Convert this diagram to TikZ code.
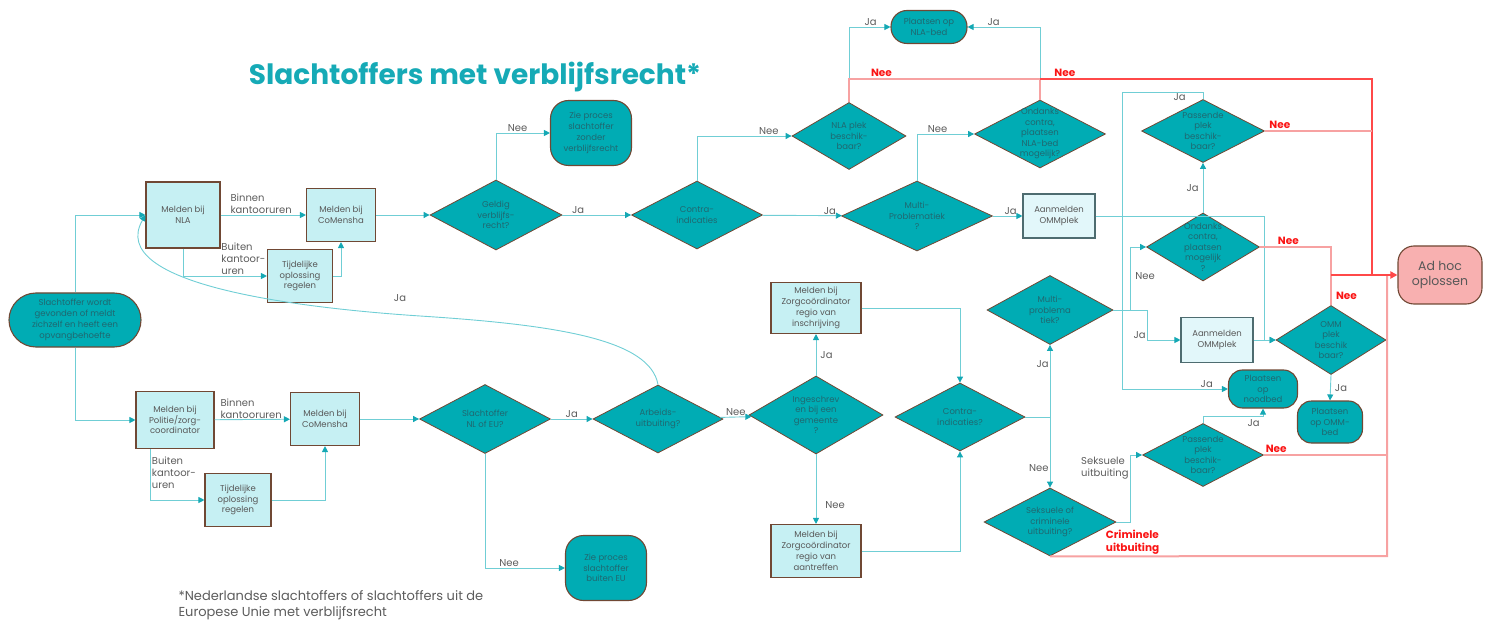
\documentclass[tikz,border=0pt]{standalone}
\usepackage{fontspec}
\setmainfont{Poppins}
\usetikzlibrary{shapes.geometric,arrows.meta,positioning}

\definecolor{tealfill}{RGB}{0,172,180}
\definecolor{brownb}{RGB}{112,72,52}
\definecolor{boxfill}{RGB}{198,240,243}
\definecolor{ommfill}{RGB}{226,247,250}
\definecolor{ommborder}{RGB}{78,108,112}
\definecolor{linec}{RGB}{112,206,213}
\definecolor{arrc}{RGB}{20,168,180}
\definecolor{diatxt}{RGB}{32,104,112}
\definecolor{boxtxt}{RGB}{88,88,88}
\definecolor{labgray}{RGB}{92,92,92}
\definecolor{titlec}{RGB}{22,170,182}
\definecolor{redlight}{RGB}{247,162,162}
\definecolor{redbright}{RGB}{255,72,72}
\definecolor{redlab}{RGB}{250,20,20}
\definecolor{adhocfill}{RGB}{248,176,176}

\tikzset{
	conn/.style={draw=linec, line width=0.9pt, -{Triangle[length=6pt,width=6pt,color=arrc]}},
	plain/.style={draw=linec, line width=0.9pt},
	redl/.style={draw=redlight, line width=2pt},
	redt/.style={draw=redbright, line width=2pt},
	box/.style={rectangle, draw=brownb, line width=1.1pt, fill=boxfill, text=boxtxt, align=center, inner sep=1pt, font=\fontsize{8.5}{10.8}\selectfont},
	ommbox/.style={box, draw=ommborder, fill=ommfill},
	dia/.style={diamond, draw=brownb, line width=0.8pt, fill=tealfill, inner sep=0pt},
	dtxt/.style={text=diatxt, align=center, inner sep=0pt, font=\fontsize{8.5}{10.5}\selectfont},
	term/.style={rectangle, rounded corners=#1, draw=brownb, line width=1.1pt, fill=tealfill, text=diatxt, align=center, inner sep=1pt, font=\fontsize{8.5}{10.8}\selectfont},
	term/.default=14pt,
	lbl/.style={text=labgray, inner sep=1pt, font=\fontsize{10}{12}\selectfont},
	rlbl/.style={text=redlab, inner sep=1pt, font=\bfseries\fontsize{10.5}{12.5}\selectfont},
}

\begin{document}
\begin{tikzpicture}[x=1pt, y=-1pt]
	\useasboundingbox (0,0) rectangle (1491,620);

	\node[text=titlec, font=\bfseries\fontsize{28}{32}\selectfont] (titel) at (475,77) {Slachtoffers met verblijfsrecht*};

	\node[term=27pt, minimum width=132pt, minimum height=54pt] (start) at (75,320) {Slachtoffer wordt\\gevonden of meldt\\zichzelf en heeft een\\opvangbehoefte};

	\node[box, minimum width=74pt, minimum height=66pt] (nla) at (183,215) {Melden bij\\NLA};
	\node[box, minimum width=69pt, minimum height=53pt] (comA) at (341,215) {Melden bij\\CoMensha};
	\node[box, minimum width=65pt, minimum height=53pt] (tijdA) at (300,276) {Tijdelijke\\oplossing\\regelen};
	\node[dia, minimum width=132pt, minimum height=70pt, label={[dtxt]center:{Geldig\\verblijfs-\\recht?}}] (geldig) at (496,215) {};
	\node[term=18pt, minimum width=81pt, minimum height=65pt] (zonder) at (591,133) {Zie proces\\slachtoffer\\zonder\\verblijfsrecht};
	\node[dia, minimum width=131pt, minimum height=68pt, label={[dtxt]center:{Contra-\\indicaties}}] (contra) at (697,215) {};
	\node[dia, minimum width=114pt, minimum height=67pt, label={[dtxt]center:{NLA plek\\beschik-\\baar?}}] (nlaplek) at (849,136) {};
	\node[term=16pt, minimum width=76pt, minimum height=33pt] (nlabed) at (929,27) {Plaatsen op\\NLA-bed};
	\node[dia, minimum width=131pt, minimum height=68pt, label={[dtxt]center:{Ondanks\\contra,\\plaatsen\\NLA-bed\\mogelijk?}}] (ondnla) at (1040,134) {};
	\node[dia, minimum width=151pt, minimum height=70pt, label={[dtxt]center:{Multi-\\Problematiek\\?}}] (multi) at (917,216) {};
	\node[ommbox, minimum width=72pt, minimum height=44pt] (ommA) at (1059,216) {Aanmelden\\OMMplek};
	\node[dia, minimum width=123pt, minimum height=63pt, label={[dtxt]center:{Passende\\plek\\beschik-\\baar?}}] (pasA) at (1203,131) {};
	\node[dia, minimum width=113pt, minimum height=68pt, label={[dtxt]center:{Ondanks\\contra,\\plaatsen\\mogelijk\\?}}] (ondomm) at (1203,247) {};
	\node[term=16pt, fill=adhocfill, text=boxtxt, font=\fontsize{12.5}{15.5}\selectfont, minimum width=84pt, minimum height=58pt] (adhoc) at (1440,275) {Ad hoc\\oplossen};

	\node[box, minimum width=78pt, minimum height=57pt] (politie) at (175,420) {Melden bij\\Politie/zorg-\\coordinator};
	\node[box, minimum width=69pt, minimum height=53pt] (comB) at (325,419) {Melden bij\\CoMensha};
	\node[box, minimum width=66pt, minimum height=53pt] (tijdB) at (238,500) {Tijdelijke\\oplossing\\regelen};
	\node[dia, minimum width=131pt, minimum height=69pt, label={[dtxt]center:{Slachtoffer\\NL of EU?}}] (nleu) at (485,419) {};
	\node[term=18pt, minimum width=81pt, minimum height=65pt] (buiten) at (606,568) {Zie proces\\slachtoffer\\buiten EU};
	\node[dia, minimum width=130pt, minimum height=68pt, label={[dtxt]center:{Arbeids-\\uitbuiting?}}] (arbeid) at (658,419) {};
	\node[dia, minimum width=134pt, minimum height=78pt, label={[dtxt]center:{Ingeschrev\\en bij een\\gemeente\\?}}] (ingeschr) at (816,415) {};
	\node[box, minimum width=90pt, minimum height=51pt] (zorgin) at (816,308) {Melden bij\\Zorgcoördinator\\regio van\\inschrijving};
	\node[box, minimum width=90pt, minimum height=53pt] (zorgaan) at (816,551) {Melden bij\\Zorgcoördinator\\regio van\\aantreffen};
	\node[dia, minimum width=130pt, minimum height=68pt, label={[dtxt]center:{Contra-\\indicaties?}}] (contrab) at (960,417) {};
	\node[dia, minimum width=126pt, minimum height=69pt, label={[dtxt]center:{Multi-\\problema\\tiek?}}] (multib) at (1050,310) {};
	\node[ommbox, minimum width=72pt, minimum height=45pt] (ommB) at (1217,340) {Aanmelden\\OMMplek};
	\node[dia, minimum width=110pt, minimum height=69pt, label={[dtxt]center:{OMM\\plek\\beschik\\baar?}}] (ommplek) at (1331,340) {};
	\node[term, minimum width=65pt, minimum height=42pt] (ommbed) at (1330,422) {Plaatsen\\op OMM-\\bed};
	\node[term, minimum width=69pt, minimum height=38pt] (noodbed) at (1263,389) {Plaatsen\\op\\noodbed};
	\node[dia, minimum width=121pt, minimum height=63pt, label={[dtxt]center:{Passende\\plek\\beschik-\\baar?}}] (pasB) at (1203,455) {};
	\node[dia, minimum width=132pt, minimum height=68pt, label={[dtxt]center:{Seksuele of\\criminele\\uitbuiting?}}] (seks) at (1050,522) {};

	\node[anchor=north west, align=left, text=labgray, font=\fontsize{13}{16}\selectfont] (voetnoot) at (175,587) {*Nederlandse slachtoffers of slachtoffers uit de\\Europese Unie met verblijfsrecht};

	\coordinate (j1) at (1264,340);
	\coordinate (j2) at (1122,92);
	\coordinate (j3) at (1263,416);
	\coordinate (m1) at (1130,310);
	\coordinate (m2) at (1147,310);
	\coordinate (m3) at (1130,522);
	\coordinate (r1) at (849,79);
	\coordinate (r2) at (1372,79);
	\coordinate (r3) at (1372,275);
	\coordinate (r4) at (1331,275);
	\coordinate (r5) at (1387,455);
	\coordinate (r6) at (1387,556);
	\coordinate (r7) at (1387,275);

	\draw[conn] (start.north) |- (nla.west);
	\draw[conn] (start.south) |- (politie.west);
	\draw[conn] (nla) -- (comA) node[lbl, pos=0.1, anchor=south west, align=left] {Binnen\\kantooruren};
	\draw[conn] (nla.south) |- (tijdA.west) node[lbl, pos=0.72, anchor=south west, align=left] {Buiten\\kantoor-\\uren};
	\draw[conn] (tijdA.east) -| (comA.south);
	\draw[conn] (comA) -- (geldig);
	\draw[conn] (geldig.north) |- (zonder.west) node[lbl, pos=0.7, above] {Nee};
	\draw[conn] (geldig) -- (contra) node[lbl, pos=0.23, above] {Ja};
	\draw[conn] (contra.north) |- (nlaplek.west) node[lbl, pos=0.88, above] {Nee};
	\draw[conn] (contra) -- (multi) node[lbl, pos=0.85, above] {Ja};
	\draw[conn] (nlaplek.north) |- (nlabed.west) node[lbl, pos=0.76, above] {Ja};
	\draw[conn] (ondnla.north) |- (nlabed.east) node[lbl, pos=0.82, above] {Ja};
	\draw[conn] (multi.north) |- (ondnla.west) node[lbl, pos=0.68, above] {Nee};
	\draw[conn] (multi) -- (ommA) node[lbl, pos=0.6, above] {Ja};
	\draw[conn] (ommA.east) -| (j1) -- (ommplek.west);
	\draw[conn] (ommB) -- (ommplek);
	\draw[conn] (ondomm.north) -- (pasA.south) node[lbl, midway, left=3pt] {Ja};
	\draw[conn] (pasA.north) -- (pasA.north |- j2) node[lbl, pos=1, anchor=north east, xshift=-16pt] {Ja} -- (j2) |- (noodbed.west) node[lbl, pos=0.9, above] {Ja};
	\draw[conn] (multib.east) -- (m1) |- (ondomm.west) node[lbl, pos=0.27, anchor=west, xshift=4pt] {Nee};
	\draw[conn] (m1) -- (m2) |- (ommB.west) node[lbl, pos=0.42, left] {Ja};
	\draw[conn] (ommplek.south) -- (ommbed.north) node[lbl, midway, right=3pt] {Ja};
	\draw[conn] (pasB.north) |- (j3) -- (noodbed.south) node[lbl, pos=0, anchor=north east, xshift=-2pt, yshift=-2pt] {Ja};
	\draw[conn] (seks.east) -- (m3) |- (pasB.west) node[lbl, pos=0.4, anchor=east, align=left] {Seksuele\\uitbuiting};
	\draw[conn] (contrab.east) -| (multib.south) node[lbl, pos=0.87, left] {Ja};
	\draw[conn] (contrab.east) -| (seks.north) node[lbl, pos=0.86, left] {Nee};
	\draw[conn] (zorgin.east) -| (contrab.north);
	\draw[conn] (zorgaan.east) -| (contrab.south);
	\draw[conn] (ingeschr) -- (zorgin) node[lbl, midway, right=3pt] {Ja};
	\draw[conn] (ingeschr) -- (zorgaan) node[lbl, pos=0.73, right=8pt] {Nee};
	\draw[conn] (arbeid) -- (ingeschr) node[lbl, midway, above] {Nee};
	\draw[conn] (nleu) -- (arbeid) node[lbl, midway, above] {Ja};
	\draw[conn] (nleu.south) |- (buiten.west) node[lbl, pos=0.65, above] {Nee};
	\draw[conn] (comB) -- (nleu);
	\draw[conn] (politie) -- (comB) node[lbl, pos=0.06, anchor=south west, align=left] {Binnen\\kantooruren};
	\draw[conn] ([xshift=15pt]politie.south west) |- (tijdB.west) node[lbl, pos=0.23, anchor=west, align=left] {Buiten\\kantoor-\\uren};
	\draw[conn] (tijdB.east) -| (comB.south);
	\draw[conn] (arbeid.north) .. controls (650,340) and (560,325) .. (420,316) .. controls (300,308) and (105,285) .. (nla.west);
	\node[lbl] (ja-terug) at (400,298) {Ja};

	\draw[redl] (nlaplek.north) -- (r1) -- (ondnla.north |- r1) node[rlbl, pos=0.17, above] {Nee};
	\draw[redl] (ondnla.north) -- (ondnla.north |- r1);
	\draw[redt] (ondnla.north |- r1) -- (r2) node[rlbl, pos=0.075, above] {Nee} -- (r3);
	\draw[redl] (pasA.east) -- (pasA.east -| r2) node[rlbl, pos=0.14, above] {Nee};
	\draw[redl] (ondomm.east) -| (r4) node[rlbl, pos=0.2, above] {Nee};
	\draw[redl] (ommplek.north) -- (r4) node[rlbl, pos=0.3, right=3pt] {Nee};
	\draw[redl] (pasB.east) -- (r5) node[rlbl, pos=0.1, above] {Nee};
	\draw[redl] (seks.south) -- (r6) node[rlbl, pos=0.16, anchor=south west, align=left] {Criminele\\uitbuiting} -- (r7);
	\draw[redt, -{Triangle[length=7pt,width=7pt]}] (r4) -- (adhoc);
\end{tikzpicture}
\end{document}
